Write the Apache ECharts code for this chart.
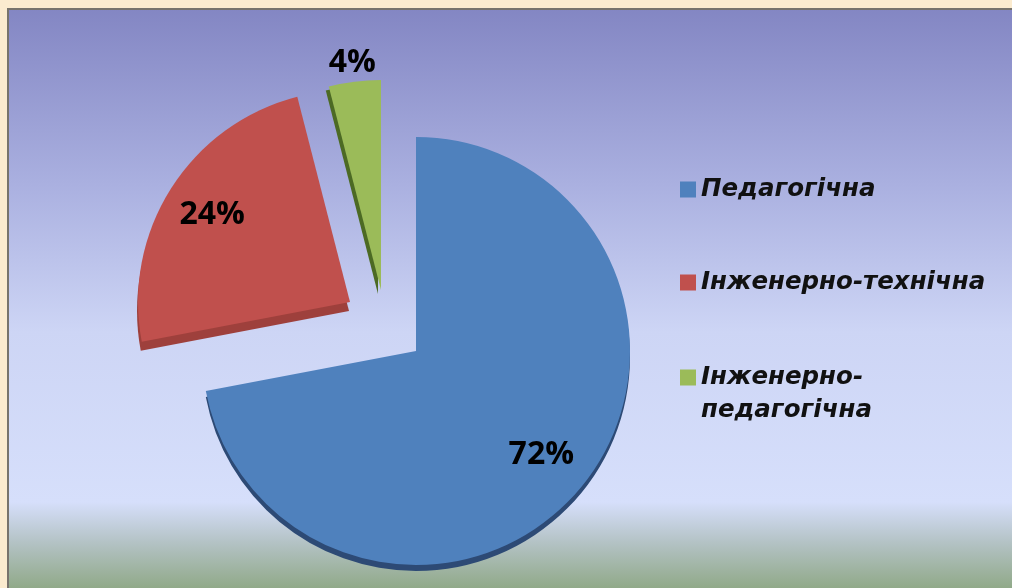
<!DOCTYPE html>
<html>
<head>
<meta charset="utf-8">
<script src="https://cdn.jsdelivr.net/npm/echarts@6/dist/echarts.min.js"></script>
<style>
  html, body { margin: 0; padding: 0; background: #fbebcf; }
  #chart { width: 1012px; height: 588px; }
</style>
</head>
<body>
<div id="chart"></div>
<script>
// дані діаграми
const categories = ["Педагогічна", "Інженерно-технічна", "Інженерно-педагогічна"]
const values = [72, 24, 4]
const valueLabels = ["72%", "24%", "4%"]

// оформлення
const colors = ["#4f81bd", "#c0504d", "#9bbb59"]
const sideColors = ["#2d4a75", "#9e403c", "#4c6a24"]
const sideOffsets = [[0, 6], [-1, 9], [-3, 4]]
// кожен сектор винесено окремо (як у 3D-діаграмі Excel)
const centers = [[416, 351], [350, 302], [381, 290]]
const radii = [214, 212, 210]
const labelRatio = [0.76, 0.77, 1.09]

const total = values.reduce((a, b) => a + b, 0)

function labelPos(i) {
  let before = 0
  for (let k = 0; k < i; k++) before += values[k]
  const ang = ((before + values[i] / 2) / total) * Math.PI * 2
  const r = radii[i] * labelRatio[i]
  return [centers[i][0] + Math.sin(ang) * r, centers[i][1] - Math.cos(ang) * r]
}

const chart = echarts.init(document.getElementById("chart"))

const series = categories.map((_, s) => ({
  type: "pie",
  center: centers[s],
  radius: radii[s],
  startAngle: 90,
  clockwise: true,
  silent: true,
  animation: false,
  emphasis: { disabled: true },
  label: {
    show: false,
    position: "inside",
    color: "#000",
    fontFamily: "Open Sans",
    fontWeight: "bold",
    fontSize: 32,
  },
  labelLine: { show: false },
  labelLayout: (p) => {
    const pos = labelPos(p.dataIndex)
    return { x: pos[0], y: pos[1], align: "center", verticalAlign: "middle" }
  },
  data: categories.map((name, i) => ({
    name: name,
    value: values[i],
    itemStyle:
      i === s
        ? {
            color: colors[i],
            shadowColor: sideColors[i],
            shadowBlur: 0,
            shadowOffsetX: sideOffsets[i][0],
            shadowOffsetY: sideOffsets[i][1],
          }
        : { color: "transparent" },
    label: { show: i === s, formatter: valueLabels[i] },
  })),
}))

const legendText = {
  color: "#111",
  fontFamily: "DejaVu Sans",
  fontStyle: "italic",
  fontWeight: "bold",
  fontSize: 24.5,
  lineHeight: 31,
}

const option = {
  backgroundColor: "#fbebcf",
  graphic: [
    {
      type: "rect",
      z: -10,
      silent: true,
      shape: { x: 8, y: 9, width: 1030, height: 586 },
      style: {
        fill: new echarts.graphic.LinearGradient(0, 0, 0, 1, [
          { offset: 0, color: "#8386c3" },
          { offset: 0.3, color: "#aab0e0" },
          { offset: 0.55, color: "#cdd5f5" },
          { offset: 0.84, color: "#d6dffb" },
          { offset: 0.91, color: "#b3c2c4" },
          { offset: 0.99, color: "#8fa886" },
          { offset: 1, color: "#8fa886" },
        ]),
        stroke: "#77736c",
        lineWidth: 2,
      },
    },
  ],
  legend: [
    {
      orient: "vertical",
      left: 675,
      top: 169,
      itemWidth: 16,
      itemHeight: 16,
      itemGap: 62,
      selectedMode: false,
      icon: "rect",
      textStyle: legendText,
      data: [0, 1].map((i) => ({
        name: categories[i],
        itemStyle: { color: colors[i], opacity: 1 },
      })),
    },
    {
      orient: "vertical",
      left: 675,
      top: 323,
      itemWidth: 16,
      itemHeight: 16,
      selectedMode: false,
      icon: "rect",
      textStyle: Object.assign({}, legendText, { lineHeight: 33 }),
      // порожній перший рядок, щоб значок стояв навпроти першого рядка
      formatter: (name) => "\n" + name.replace("-", "-\n"),
      data: [
        {
          name: categories[2],
          itemStyle: { color: colors[2], opacity: 1 },
        },
      ],
    },
  ],
  series: series,
}

chart.setOption(option)

window.addEventListener("resize", () => chart.resize())
</script>
</body>
</html>
